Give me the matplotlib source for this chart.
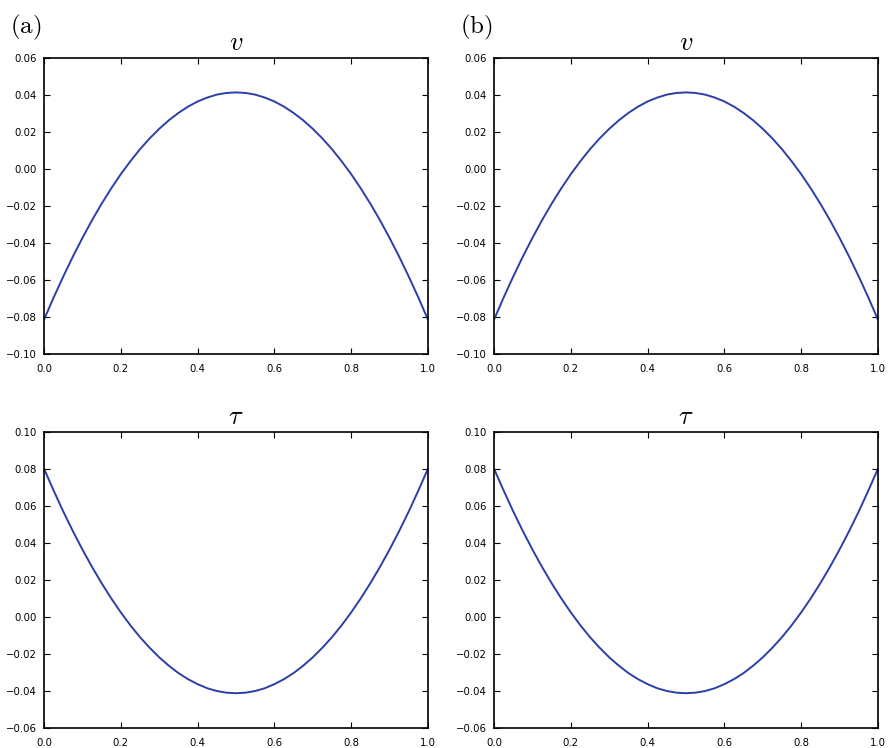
import matplotlib
matplotlib.use("Agg")
import matplotlib.pyplot as plt
from matplotlib.ticker import MultipleLocator

plt.rcParams['mathtext.fontset'] = 'cm'

x = [0.000, 0.025, 0.050, 0.075, 0.100, 0.125, 0.150, 0.175, 0.200, 0.225,
     0.250, 0.275, 0.300, 0.325, 0.350, 0.375, 0.400, 0.425, 0.450, 0.475,
     0.500, 0.525, 0.550, 0.575, 0.600, 0.625, 0.650, 0.675, 0.700, 0.725,
     0.750, 0.775, 0.800, 0.825, 0.850, 0.875, 0.900, 0.925, 0.950, 0.975, 1.000]

v_a = [-0.0815, -0.0695, -0.0582, -0.0474, -0.0373, -0.0277, -0.0188, -0.0105, -0.0028, 0.0042,
       0.0107, 0.0165, 0.0217, 0.0263, 0.0303, 0.0337, 0.0365, 0.0386, 0.0402, 0.0411,
       0.0414, 0.0411, 0.0402, 0.0386, 0.0365, 0.0337, 0.0303, 0.0263, 0.0217, 0.0165,
       0.0107, 0.0042, -0.0028, -0.0105, -0.0188, -0.0277, -0.0373, -0.0474, -0.0582, -0.0695, -0.0815]
tau_a = [0.0802, 0.0684, 0.0571, 0.0465, 0.0365, 0.0271, 0.0183, 0.0101, 0.0025, -0.0045,
         -0.0109, -0.0166, -0.0218, -0.0263, -0.0303, -0.0336, -0.0363, -0.0385, -0.0400, -0.0409,
         -0.0412, -0.0409, -0.0400, -0.0385, -0.0363, -0.0336, -0.0303, -0.0263, -0.0218, -0.0166,
         -0.0109, -0.0045, 0.0025, 0.0101, 0.0183, 0.0271, 0.0365, 0.0465, 0.0571, 0.0684, 0.0802]
v_b = [-0.0815, -0.0695, -0.0582, -0.0474, -0.0373, -0.0277, -0.0188, -0.0105, -0.0028, 0.0042,
       0.0107, 0.0165, 0.0217, 0.0263, 0.0303, 0.0337, 0.0365, 0.0386, 0.0402, 0.0411,
       0.0414, 0.0411, 0.0402, 0.0386, 0.0365, 0.0337, 0.0303, 0.0263, 0.0217, 0.0165,
       0.0107, 0.0042, -0.0028, -0.0105, -0.0188, -0.0277, -0.0373, -0.0474, -0.0582, -0.0695, -0.0815]
tau_b = [0.0802, 0.0684, 0.0571, 0.0465, 0.0365, 0.0271, 0.0183, 0.0101, 0.0025, -0.0045,
         -0.0109, -0.0166, -0.0218, -0.0263, -0.0303, -0.0336, -0.0363, -0.0385, -0.0400, -0.0409,
         -0.0412, -0.0409, -0.0400, -0.0385, -0.0363, -0.0336, -0.0303, -0.0263, -0.0218, -0.0166,
         -0.0109, -0.0045, 0.0025, 0.0101, 0.0183, 0.0271, 0.0365, 0.0465, 0.0571, 0.0684, 0.0802]

titles = [r'$v$', r'$\tau$']
panel_labels = [r'$\mathrm{(a)}$', r'$\mathrm{(b)}$']
ylims = [(-0.10, 0.06), (-0.06, 0.10)]

W, H = 889, 748
fig = plt.figure(figsize=(W / 100, H / 100), dpi=100)
fig.patch.set_facecolor('white')

col_left = [44, 494]
row_top = [58, 432]
aw, ah = 384, 296
line_color = '#2b3fa6'

data = [[v_a, tau_a], [v_b, tau_b]]

for c in range(2):
    for r in range(2):
        l = col_left[c] / W
        b = 1 - (row_top[r] + ah) / H
        ax = fig.add_axes([l, b, aw / W, ah / H])
        ax.plot(x, data[c][r], color=line_color, lw=1.4,
                solid_joinstyle='round', solid_capstyle='round')
        ax.set_xlim(0, 1)
        ax.set_ylim(*ylims[r])
        ax.xaxis.set_major_locator(MultipleLocator(0.2))
        ax.yaxis.set_major_locator(MultipleLocator(0.02))
        ax.tick_params(direction='in', top=True, right=True, length=4, width=0.8,
                       labelsize=7.3)
        ax.tick_params(axis='x', pad=7)
        ax.tick_params(axis='y', pad=5)
        for sp in ax.spines.values():
            sp.set_linewidth(1.2)
        ax.set_title(titles[r], fontsize=19, pad=6)
    fig.text((col_left[c] - 34) / W, 1 - 33 / H, panel_labels[c], fontsize=18,
             ha='left', va='baseline')

fig.savefig('out.png', dpi=100, facecolor='white')
